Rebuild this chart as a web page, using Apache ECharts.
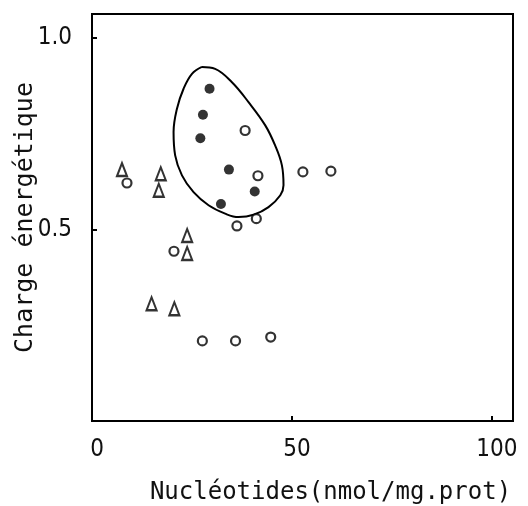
<!DOCTYPE html>
<html>
<head>
<meta charset="utf-8">
<script src="https://cdn.jsdelivr.net/npm/echarts@6/dist/echarts.min.js"></script>
<style>html,body{margin:0;padding:0;background:#fff}#c{width:528px;height:506px}</style>
</head>
<body>
<div id="c"></div>
<script>
var xTicks = [0, 50, 100];
var yTicks = [0.5, 1.0];
var filledCircles = [[29.4,0.867],[27.75,0.799],[27.1,0.738],[34.25,0.656],[40.7,0.599],[32.25,0.566]];
var openCircles = [[38.3,0.758],[41.5,0.640],[52.75,0.650],[59.75,0.652],[8.75,0.621],[36.25,0.509],[41.1,0.528],[20.5,0.443],[27.6,0.209],[35.9,0.209],[44.7,0.219]];
var triangles = [[7.5,0.656],[17.2,0.645],[16.7,0.602],[23.8,0.484],[23.8,0.437],[14.9,0.306],[20.6,0.293]];
var contour = [[27.5,0.924],[25.0,0.906],[22.9,0.867],[21.25,0.815],[20.4,0.754],[20.8,0.693],[22.5,0.641],[25.4,0.597],[29.15,0.563],[33.3,0.541],[36.65,0.532],[40.4,0.538],[44.15,0.558],[47.1,0.589],[47.9,0.615],[47.5,0.667],[45.8,0.719],[43.3,0.772],[39.15,0.832],[35.0,0.884],[30.8,0.919],[27.5,0.924]];

var FONT = "'DejaVu Sans Condensed','Liberation Sans Narrow','DejaVu Sans',sans-serif";
var MONO = "'DejaVu Sans Mono','Liberation Mono',monospace";
var ink = '#000';
var txt = '#111';
var chart = echarts.init(document.getElementById('c'), null, {renderer:'canvas'});
chart.setOption({
  animation: false,
  backgroundColor: '#fff',
  grid: {left: 92, top: 14, right: 15, bottom: 85, show: true, borderColor: ink, borderWidth: 2, backgroundColor: 'transparent', containLabel: false, outerBoundsMode: 'none'},
  xAxis: {
    type: 'value', min: 0, max: 105.3, interval: 50,
    splitLine: {show: false},
    axisLine: {show: true, lineStyle: {color: ink, width: 2}},
    axisTick: {show: true, inside: true, length: 5, customValues: [50, 100], lineStyle: {color: ink, width: 2}},
    axisLabel: {customValues: xTicks, margin: 17, color: txt, fontSize: 24, fontFamily: FONT, padding: [0,0,0,10]},
    name: 'Nucléotides(nmol/mg.prot)', nameLocation: 'middle', nameGap: 60, nameMoveOverlap: false,
    nameTextStyle: {color: txt, fontSize: 24, fontFamily: MONO, padding: [0,0,0,56]}
  },
  yAxis: {
    type: 'value', min: 0, max: 1.062, interval: 0.5,
    splitLine: {show: false},
    axisLine: {show: true, lineStyle: {color: ink, width: 2}},
    axisTick: {show: true, inside: true, length: 5, customValues: yTicks, lineStyle: {color: ink, width: 2}},
    axisLabel: {customValues: yTicks, margin: 20, color: txt, fontSize: 24, fontFamily: FONT, formatter: function(v){return v.toFixed(1);}},
    name: 'Charge énergétique', nameLocation: 'middle', nameGap: 54, nameMoveOverlap: false,
    nameTextStyle: {color: txt, fontSize: 25, fontFamily: MONO}
  },
  series: [
    {type: 'line', data: contour, smooth: 0.4, symbol: 'none', lineStyle: {color: ink, width: 2}, z: 1},
    {type: 'scatter', data: openCircles, symbol: 'circle', symbolSize: 9, itemStyle: {color: '#fff', borderColor: ink, borderWidth: 2.2}, z: 3},
    {type: 'scatter', data: filledCircles, symbol: 'circle', symbolSize: 10, itemStyle: {color: ink}, z: 3},
    {type: 'scatter', data: triangles, symbol: 'triangle', symbolSize: [10, 13], itemStyle: {color: '#fff', borderColor: ink, borderWidth: 2.2}, z: 3}
  ]
});
</script>
</body>
</html>
